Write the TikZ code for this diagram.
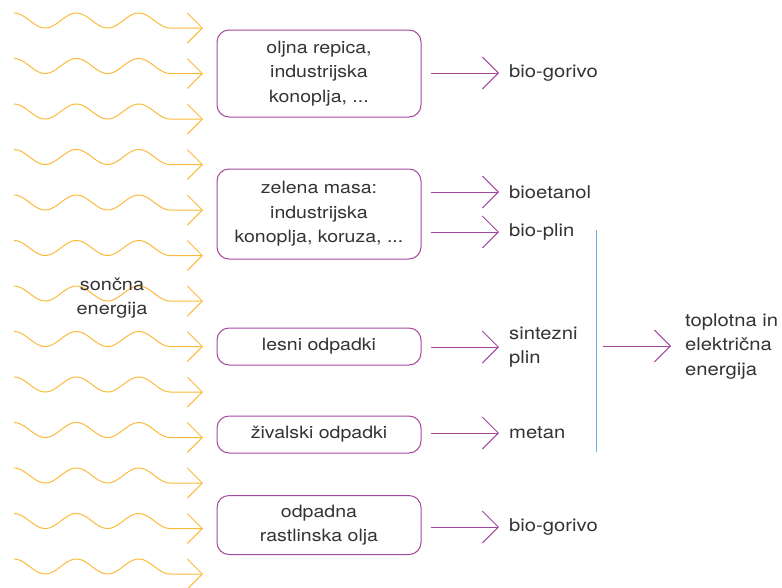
\documentclass[tikz,border=0pt]{standalone}
\usepackage{fontspec}
\setmainfont{TeX Gyre Heros}[FakeStretch=1.15]
\usetikzlibrary{arrows.meta}
\definecolor{sun}{HTML}{FBBA3A}
\definecolor{purp}{HTML}{A4489F}
\definecolor{bl}{HTML}{6CB0E0}
\definecolor{txt}{HTML}{333333}
\tikzset{
  box/.style={draw=purp, line width=1pt, rounded corners=12pt, minimum width=204pt, align=center, text=txt, inner sep=0pt, font=\fontsize{17}{24.5}\selectfont},
  lab/.style={anchor=west, align=left, text=txt, inner sep=0pt, font=\fontsize{17.6}{24.5}\selectfont},
  parr/.style={draw=purp, line width=1pt, -{Straight Barb[length=16pt,width=32pt,line width=1pt]}},
  sunarr/.style={draw=sun, line width=1pt, -{Straight Barb[length=15pt,width=30pt,line width=1pt]}},
}
\begin{document}
\begin{tikzpicture}[x=1pt,y=-1pt]
\useasboundingbox (0,0) rectangle (782,587);
% sun waves
\foreach \k in {0,...,12}{
  \pgfmathsetmacro{\yb}{28+45.5*\k}
  \draw[sunarr] plot[domain=14:170, samples=120] (\x, {\yb - 7.5 - 7.5*cos(5.76923*(\x-14))}) -- (203,\yb);
}
\node[text=txt, align=center, inner sep=0pt, font=\fontsize{17.3}{24.5}\selectfont] (sun) at (112,298) {sončna\\energija};
% boxes
\node[box, minimum height=87pt] (b1) at (319,73.5) {oljna repica,\\industrijska\\konoplja, ...};
\node[box, minimum height=90pt] (b2) at (319,214) {zelena masa:\\industrijska\\konoplja, koruza, ...};
\node[box, minimum height=37pt] (b3) at (319,346.5) {lesni odpadki};
\node[box, minimum height=37pt] (b4) at (319,434.5) {živalski odpadki};
\node[box, minimum height=59pt] (b5) at (319,525) {odpadna\\rastlinska olja};
% labels
\node[lab] (l1) at (509,73) {bio-gorivo};
\node[lab] (l2) at (509,192) {bioetanol};
\node[lab] (l3) at (509,232) {bio-plin};
\node[lab] (l4) at (509,347) {sintezni\\plin};
\node[lab] (l5) at (509,433) {metan};
\node[lab] (l6) at (509,527) {bio-gorivo};
\node[lab] (out) at (685,346) {toplotna in\\električna\\energija};
% arrows
\draw[parr] ([xshift=9pt]l1.west -| b1.east) -- ([xshift=-10pt]l1.west);
\draw[parr] ([xshift=9pt]l2.west -| b2.east) -- ([xshift=-10pt]l2.west);
\draw[parr] ([xshift=9pt]l3.west -| b2.east) -- ([xshift=-10pt]l3.west);
\draw[parr] ([xshift=9pt]l4.west -| b3.east) -- ([xshift=-10pt]l4.west);
\draw[parr] ([xshift=9pt]l5.west -| b4.east) -- ([xshift=-10pt]l5.west);
\draw[parr] ([xshift=9pt]l6.west -| b5.east) -- ([xshift=-10pt]l6.west);
% collector line
\coordinate (vt) at (596,230);
\coordinate (vb) at (596,452);
\draw[bl, line width=1pt] (vt) -- (vb);
\draw[parr] ([xshift=7pt]out.west -| vt) -- ([xshift=-14pt]out.west);
\end{tikzpicture}
\end{document}
